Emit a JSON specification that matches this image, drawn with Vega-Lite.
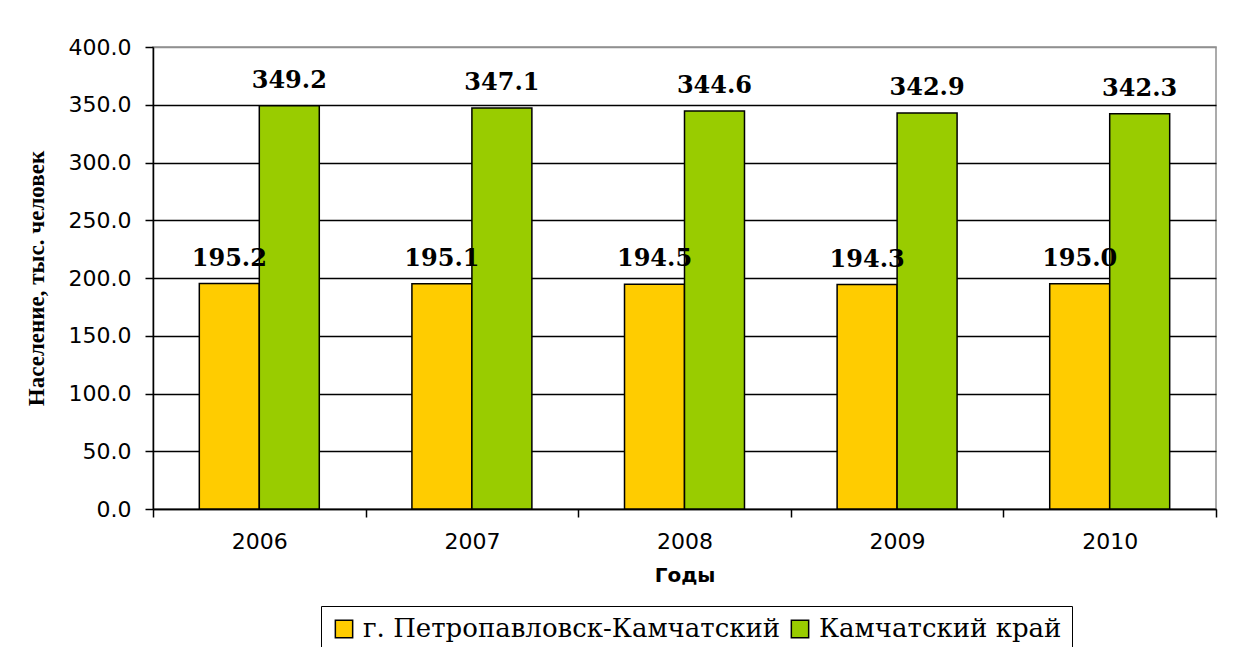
{
  "$schema": "https://vega.github.io/schema/vega-lite/v6.json",
  "autosize": "none",
  "width": 1063,
  "height": 462,
  "padding": {"left": 153, "top": 47, "right": 22, "bottom": 138},
  "background": "white",
  "data": {
    "values": [
      {"year": "2006", "series": "г. Петропавловск-Камчатский", "value": 195.2},
      {"year": "2006", "series": "Камчатский край", "value": 349.2},
      {"year": "2007", "series": "г. Петропавловск-Камчатский", "value": 195.1},
      {"year": "2007", "series": "Камчатский край", "value": 347.1},
      {"year": "2008", "series": "г. Петропавловск-Камчатский", "value": 194.5},
      {"year": "2008", "series": "Камчатский край", "value": 344.6},
      {"year": "2009", "series": "г. Петропавловск-Камчатский", "value": 194.3},
      {"year": "2009", "series": "Камчатский край", "value": 342.9},
      {"year": "2010", "series": "г. Петропавловск-Камчатский", "value": 195.0},
      {"year": "2010", "series": "Камчатский край", "value": 342.3}
    ]
  },
  "encoding": {
    "x": {
      "field": "year", "type": "nominal",
      "scale": {"paddingInner": 0, "paddingOuter": 0},
      "axis": {
        "title": "Годы",
        "labelAngle": 0,
        "labelFont": "DejaVu Sans", "labelFontSize": 22, "labelColor": "black",
        "labelPadding": 14,
        "tickBand": "extent", "tickSize": 8, "tickColor": "black", "tickWidth": 1.5,
        "domainColor": "black", "domainWidth": 1.5,
        "grid": false,
        "titleFont": "DejaVu Sans", "titleFontSize": 20, "titleFontWeight": "bold", "titleColor": "black",
        "titlePadding": 13
      }
    },
    "xOffset": {
      "field": "series", "type": "nominal",
      "scale": {"paddingInner": 0, "paddingOuter": 0.772, "domain": ["г. Петропавловск-Камчатский", "Камчатский край"]}
    },
    "y": {
      "field": "value", "type": "quantitative",
      "scale": {"domain": [0, 400]},
      "axis": {
        "title": "Население, тыс. человек",
        "values": [0, 50, 100, 150, 200, 250, 300, 350, 400],
        "format": ".1f",
        "labelFont": "DejaVu Sans", "labelFontSize": 22, "labelColor": "black",
        "labelPadding": 14,
        "tickSize": 8, "tickColor": "black", "tickWidth": 1.5,
        "domainColor": "black", "domainWidth": 1.5,
        "grid": true,
        "gridColor": {"condition": {"test": "datum.value == 400", "value": "#909090"}, "value": "black"},
        "gridWidth": 1.3, "gridOpacity": 1,
        "titleFont": "Liberation Serif", "titleFontSize": 23, "titleFontWeight": "bold", "titleColor": "black",
        "titlePadding": 20
      }
    }
  },
  "layer": [
    {
      "mark": {"type": "bar", "stroke": "black", "strokeWidth": 1.5},
      "encoding": {
        "color": {
          "field": "series", "type": "nominal",
          "scale": {"domain": ["г. Петропавловск-Камчатский", "Камчатский край"], "range": ["#FFCC00", "#99CC00"]},
          "legend": {
            "title": null,
            "orient": "none",
            "legendX": 168,
            "legendY": 559,
            "direction": "horizontal",
            "strokeColor": "black",
            "fillColor": "white",
            "padding": 10,
            "labelFont": "DejaVu Serif",
            "labelFontSize": 26,
            "labelColor": "black",
            "labelOffset": 6,
            "labelLimit": 600,
            "symbolType": "square",
            "symbolSize": 300,
            "symbolStrokeColor": "black",
            "symbolStrokeWidth": 1.5,
            "symbolOpacity": 1,
            "columnPadding": 6
          }
        }
      }
    },
    {
      "mark": {"type": "text", "font": "DejaVu Serif", "fontWeight": "bold", "fontSize": 24, "baseline": "alphabetic", "dy": -18, "color": "black"},
      "encoding": {
        "text": {"field": "value", "type": "quantitative", "format": ".1f"}
      }
    }
  ],
  "config": {
    "view": {"stroke": "#909090", "strokeWidth": 1.5}
  }
}
